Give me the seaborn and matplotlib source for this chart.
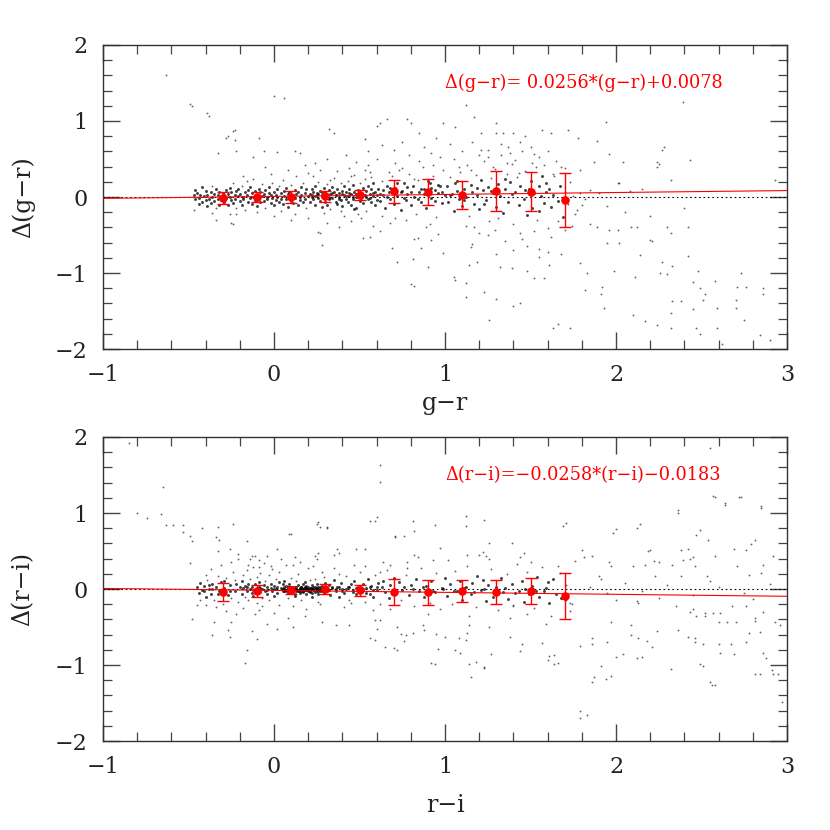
import numpy as np
import pandas as pd
import matplotlib
matplotlib.use('Agg')
import matplotlib.pyplot as plt
import seaborn as sns
from matplotlib.ticker import MultipleLocator

# --- binned means (red points) ---
bin_x = [-0.3, -0.1, 0.1, 0.3, 0.5, 0.7, 0.9, 1.1, 1.3, 1.5, 1.7]
gr_mean = [-0.013, 0.0, 0.0, 0.01, 0.026, 0.075, 0.07, 0.026, 0.08, 0.07, -0.04]
gr_err = [0.077, 0.07, 0.075, 0.075, 0.07, 0.15, 0.17, 0.18, 0.26, 0.26, 0.36]
ri_mean = [-0.044, -0.026, -0.018, -0.005, -0.018, -0.044, -0.044, -0.026, -0.04, -0.022, -0.09]
ri_err = [0.12, 0.085, 0.05, 0.065, 0.07, 0.17, 0.16, 0.15, 0.155, 0.17, 0.30]

# fitted lines (slope, intercept), as printed on the panels
gr_fit = (0.0256, 0.0078)
ri_fit = (-0.0258, -0.0183)
gr_note = 'Δ(g−r)= 0.0256*(g−r)+0.0078'
ri_note = 'Δ(r−i)=−0.0258*(r−i)−0.0183'

# --- individual stars, (colour, delta) ---
gr_core = [
    (-0.47, 0.02), (-0.46, -0.03), (-0.45, 0.05), (-0.44, -0.01), (-0.43, 0.03), (-0.42, -0.06), (-0.41, 0.01),
    (-0.40, 0.08), (-0.40, -0.04), (-0.39, 0.02), (-0.38, -0.02), (-0.37, 0.06), (-0.37, -0.08), (-0.36, 0.00),
    (-0.35, 0.04), (-0.35, -0.05), (-0.34, 0.10), (-0.33, -0.02), (-0.33, 0.03), (-0.32, -0.10), (-0.32, 0.07),
    (-0.31, 0.01), (-0.31, -0.04), (-0.30, 0.05), (-0.46, 0.09), (-0.44, -0.09), (-0.42, 0.13), (-0.39, -0.12),
    (-0.36, 0.15), (-0.34, -0.14),
    (-0.29, 0.02), (-0.29, -0.07), (-0.28, 0.09), (-0.28, -0.01), (-0.27, 0.04), (-0.27, -0.11), (-0.26, 0.12),
    (-0.26, 0.00), (-0.25, -0.04), (-0.25, 0.06), (-0.24, 0.18), (-0.24, -0.08), (-0.23, 0.03), (-0.23, -0.02),
    (-0.22, 0.08), (-0.22, -0.14), (-0.21, 0.01), (-0.21, 0.11), (-0.20, -0.05), (-0.20, 0.04), (-0.19, -0.10),
    (-0.19, 0.15), (-0.18, 0.00), (-0.18, -0.03), (-0.17, 0.07), (-0.17, -0.17), (-0.16, 0.02), (-0.16, 0.21),
    (-0.15, -0.06), (-0.15, 0.09), (-0.14, -0.01), (-0.14, 0.13), (-0.13, 0.05), (-0.13, -0.09), (-0.12, 0.00),
    (-0.12, 0.24), (-0.11, -0.04), (-0.11, 0.08), (-0.10, 0.03), (-0.10, -0.12), (-0.09, 0.11), (-0.09, -0.02),
    (-0.08, 0.06), (-0.08, -0.07), (-0.07, 0.01), (-0.07, 0.17), (-0.06, -0.05), (-0.06, 0.04), (-0.05, -0.15),
    (-0.05, 0.09), (-0.04, 0.00), (-0.04, -0.03), (-0.03, 0.13), (-0.03, 0.05), (-0.02, -0.08), (-0.02, 0.02),
    (-0.01, 0.19), (-0.01, -0.01), (0.00, 0.07), (0.00, -0.11), (0.01, 0.03), (0.01, -0.04), (0.02, 0.10),
    (0.02, 0.00), (0.03, -0.06), (0.03, 0.15), (0.04, 0.05), (0.04, -0.02), (0.05, 0.22), (0.05, -0.09),
    (0.06, 0.01), (0.06, 0.08), (0.07, -0.03), (0.07, 0.12), (0.08, 0.04), (0.08, -0.13), (0.09, 0.00),
    (0.09, 0.06), (0.10, -0.05), (0.10, 0.16), (0.11, 0.02), (0.11, -0.08), (0.12, 0.09), (0.12, -0.01),
    (0.13, 0.27), (0.13, 0.04), (0.14, -0.10), (0.14, 0.07), (0.15, 0.00), (0.15, -0.04), (0.16, 0.13),
    (0.16, 0.03), (0.17, -0.07), (0.17, 0.19), (0.18, 0.05), (0.18, -0.02), (0.19, 0.10), (0.19, -0.15),
    (0.20, 0.01), (0.20, 0.31), (-0.22, -0.22), (-0.10, -0.20), (0.04, -0.19), (0.12, -0.22), (-0.18, 0.28),
    (-0.02, 0.30), (0.08, 0.35),
    (0.21, 0.04), (0.21, -0.06), (0.22, 0.11), (0.22, 0.00), (0.23, -0.03), (0.23, 0.07), (0.24, 0.15),
    (0.24, -0.10), (0.25, 0.02), (0.25, 0.05), (0.26, -0.01), (0.26, 0.20), (0.27, 0.08), (0.27, -0.05),
    (0.28, 0.03), (0.28, -0.13), (0.29, 0.12), (0.29, 0.00), (0.30, 0.06), (0.30, -0.07), (0.31, 0.17),
    (0.31, 0.01), (0.32, -0.03), (0.32, 0.09), (0.33, 0.04), (0.33, -0.16), (0.34, 0.13), (0.34, -0.01),
    (0.35, 0.07), (0.35, 0.25), (0.36, -0.06), (0.36, 0.02), (0.37, 0.10), (0.37, -0.09), (0.38, 0.05),
    (0.38, 0.00), (0.39, 0.18), (0.39, -0.04), (0.40, 0.08), (0.40, -0.12), (0.41, 0.03), (0.41, 0.14),
    (0.42, -0.02), (0.42, 0.06), (0.43, 0.21), (0.43, -0.07), (0.44, 0.01), (0.44, 0.11), (0.45, -0.10),
    (0.45, 0.04), (0.46, 0.16), (0.46, -0.03), (0.47, 0.07), (0.47, 0.29), (0.48, 0.00), (0.48, -0.14),
    (0.49, 0.09), (0.49, 0.03), (0.50, -0.05), (0.50, 0.19), (0.51, 0.05), (0.51, -0.01), (0.52, 0.12),
    (0.52, -0.08), (0.53, 0.02), (0.53, 0.24), (0.54, 0.08), (0.54, -0.18), (0.55, -0.03), (0.55, 0.14),
    (0.56, 0.04), (0.56, 0.33), (0.57, -0.06), (0.57, 0.10), (0.58, 0.01), (0.58, 0.18), (0.59, -0.11),
    (0.59, 0.06), (0.60, 0.02), (0.60, -0.04),
    (0.22, 0.03), (0.24, 0.01), (0.26, 0.04), (0.28, 0.06), (0.30, 0.02), (0.32, -0.01), (0.34, 0.05),
    (0.36, 0.03), (0.38, -0.02), (0.40, 0.04), (0.42, 0.01), (0.44, 0.05), (0.46, 0.00), (0.48, 0.04),
    (0.50, 0.01), (0.52, 0.03), (0.54, 0.00), (0.56, -0.01), (0.58, 0.05), (0.23, 0.28), (0.29, -0.21),
    (0.37, 0.34), (0.41, -0.25), (0.44, 0.38), (0.51, -0.28), (0.55, 0.42), (0.27, 0.36), (0.33, 0.22),
    (0.45, 0.27), (0.57, 0.26), (0.39, -0.19), (0.49, -0.22), (0.53, 0.36), (0.31, -0.11), (0.47, -0.16),
    (0.61, 0.10), (0.62, -0.05), (0.63, 0.21), (0.64, 0.03), (0.65, -0.14), (0.66, 0.15), (0.67, 0.06),
    (0.68, -0.02), (0.69, 0.27), (0.70, -0.09), (0.71, 0.12), (0.72, 0.01), (0.73, 0.35), (0.74, -0.17),
    (0.75, 0.08), (0.76, 0.19), (0.77, -0.04), (0.78, 0.04), (0.79, 0.30), (0.80, -0.11), (0.81, 0.14),
    (0.82, 0.00), (0.83, -0.22), (0.84, 0.23), (0.85, 0.07), (0.86, -0.06), (0.87, 0.40), (0.88, 0.11),
    (0.89, -0.15), (0.90, 0.02), (0.91, 0.18), (0.92, -0.01), (0.93, 0.28), (0.94, 0.09), (0.95, -0.26),
    (0.96, 0.05), (0.97, 0.15), (0.98, -0.08), (0.99, 0.36), (1.00, 0.03),
    (0.62, 0.04), (0.64, 0.09), (0.66, 0.00), (0.68, 0.12), (0.70, 0.05), (0.72, 0.18), (0.74, 0.06),
    (0.76, -0.01), (0.78, 0.13), (0.80, 0.07), (0.82, 0.24), (0.84, -0.03), (0.86, 0.10), (0.88, 0.04),
    (0.90, 0.21), (0.92, 0.12), (0.94, -0.05), (0.96, 0.16), (0.98, 0.06), (0.63, -0.25), (0.71, 0.45),
    (0.77, -0.30), (0.85, 0.48), (0.91, -0.35), (0.97, 0.52), (0.67, 0.33), (0.79, 0.55), (0.89, -0.40),
    (0.75, 0.38), (0.93, 0.42),
    (1.01, 0.14), (1.02, -0.07), (1.03, 0.26), (1.04, 0.04), (1.05, -0.19), (1.06, 0.19), (1.07, 0.08),
    (1.08, -0.02), (1.09, 0.33), (1.10, -0.12), (1.11, 0.11), (1.12, 0.00), (1.13, 0.42), (1.14, -0.25),
    (1.15, 0.16), (1.16, 0.06), (1.17, -0.09), (1.18, 0.29), (1.19, 0.03), (1.20, -0.16), (1.21, 0.22),
    (1.22, 0.09), (1.23, 0.48), (1.24, -0.04), (1.25, 0.13), (1.26, -0.31), (1.27, 0.25), (1.28, 0.05),
    (1.29, 0.37), (1.30, -0.13), (1.31, 0.17), (1.32, 0.01), (1.33, 0.55), (1.34, -0.21), (1.35, 0.10),
    (1.36, 0.30), (1.37, -0.06), (1.38, 0.20), (1.39, 0.44), (1.40, -0.36), (1.41, 0.07), (1.42, 0.26),
    (1.43, -0.10), (1.44, 0.15), (1.45, 0.60), (1.46, -0.02), (1.47, 0.34), (1.48, -0.24), (1.49, 0.11),
    (1.50, 0.21), (1.51, -0.15), (1.52, 0.05), (1.53, 0.39), (1.54, -0.30), (1.55, 0.14), (1.56, 0.01),
    (1.57, 0.27), (1.58, -0.08), (1.59, 0.18), (1.60, -0.41),
    (1.03, 0.02), (1.07, 0.21), (1.11, -0.04), (1.15, 0.35), (1.19, 0.12), (1.23, -0.09), (1.27, 0.08),
    (1.31, -0.27), (1.35, 0.24), (1.39, 0.04), (1.43, 0.31), (1.47, 0.09), (1.51, 0.45), (1.55, -0.19),
    (1.59, 0.06), (1.05, 0.50), (1.12, -0.38), (1.21, 0.62), (1.29, -0.44), (1.37, 0.66), (1.44, -0.47),
    (1.52, 0.57), (1.08, 0.40), (1.25, 0.52), (1.41, 0.49),
    (1.61, 0.10), (1.62, -0.13), (1.63, 0.03), (1.64, 0.28), (1.66, -0.05), (1.67, 0.15), (1.69, -0.26),
    (1.70, 0.07), (1.72, -0.09), (1.73, 0.20), (1.75, 0.01), (1.77, -0.17), (1.79, 0.05), (1.82, -0.02),
    (1.85, 0.09), (1.68, 0.40), (1.74, -0.38),
]

gr_halo = [
    (-0.63, 1.60), (-0.49, 1.22), (-0.48, 1.20), (-0.39, 1.10), (-0.38, 1.07), (0.00, 1.33), (0.06, 1.30),
    (-0.24, 0.87), (-0.27, 0.80), (-0.23, 0.88), (-0.28, 0.77), (-0.23, 0.75), (-0.09, 0.78), (-0.33, 0.58),
    (-0.22, 0.60), (-0.12, 0.52), (-0.06, 0.60), (0.02, 0.59), (0.12, 0.60), (0.15, 0.58), (0.24, 0.45),
    (0.31, 0.50), (0.35, 0.84), (0.32, 0.90), (0.53, 0.76), (0.62, 0.97), (0.63, 0.69), (0.66, 1.03),
    (0.60, 0.93), (0.78, 1.02), (0.80, 0.98), (0.85, 0.84), (0.99, 0.97), (1.06, 0.92), (1.12, 1.21),
    (1.17, 1.05), (1.16, 0.72),
    (-0.47, -0.17), (-0.36, -0.21), (-0.26, -0.23), (-0.25, -0.34), (-0.24, -0.36), (-0.34, -0.30),
    (0.20, -0.28), (0.31, -0.34), (0.26, -0.46), (0.27, -0.47), (0.28, -0.63), (0.52, -0.54), (0.56, -0.53),
    (0.62, -0.45), (0.68, -0.34), (0.71, -0.28), (0.72, -0.85), (0.81, -0.81), (0.82, -0.55), (0.86, -0.67),
    (0.92, -0.57), (0.90, -0.92), (0.96, -0.49), (0.99, -0.74), (1.05, -1.05), (0.82, -1.17), (0.80, -1.15),
    (1.06, -1.09), (1.12, -1.31), (1.12, -1.13), (1.14, -0.90), (1.15, -0.66), (1.17, -0.39), (0.69, -0.67),
    (0.84, -0.54),
    (2.39, 1.25), (1.30, 0.97), (1.21, 0.84), (1.30, 0.84), (1.34, 0.84), (1.40, 0.84), (1.57, 0.88),
    (1.62, 0.84), (1.72, 0.88), (1.78, 0.78), (1.94, 0.99), (1.89, 0.74), (1.96, 0.57), (2.04, 0.46),
    (2.24, 0.46), (2.24, 0.39), (2.27, 0.62), (2.32, 0.22), (1.87, 0.46), (1.79, 0.35), (2.01, 0.19),
    (2.08, 0.08), (2.28, 0.66), (2.25, 0.44), (2.02, 0.18), (2.43, 0.49), (2.93, 0.22),
    (1.85, -0.35), (1.89, -0.39), (1.96, -0.44), (2.01, -0.44), (1.95, -0.61), (2.02, -0.61), (2.09, -0.40),
    (2.12, -0.40), (2.20, -0.57), (2.21, -0.58), (2.30, -0.39), (2.32, -0.48), (2.42, -0.39), (2.42, -0.78),
    (2.27, -0.86), (2.33, -0.91), (2.26, -1.00), (2.30, -1.01), (2.14, -0.76), (2.11, -1.05), (1.99, -0.98),
    (1.79, -0.87), (1.83, -1.00), (1.82, -1.22), (1.92, -1.18), (1.91, -1.27), (1.93, -1.46), (2.10, -1.55),
    (2.17, -1.63), (2.33, -1.37), (2.38, -1.37), (2.32, -1.52), (2.24, -1.68), (2.32, -1.72), (2.45, -1.48),
    (2.47, -1.72), (2.49, -1.20), (2.52, -1.27), (2.51, -1.35), (2.45, -1.12), (2.48, -0.97), (2.58, -1.10),
    (2.59, -1.46), (2.59, -1.73), (2.62, -1.93), (2.49, -1.80), (2.71, -1.19), (2.73, -1.00), (2.70, -1.46),
    (2.86, -1.20), (2.86, -1.27), (2.76, -1.19), (1.66, -1.67), (1.73, -1.72), (1.63, -1.73), (1.26, -1.62),
    (1.40, -1.44), (1.44, -1.40), (1.23, -1.25), (1.30, -1.34), (1.32, -0.92), (1.39, -0.94), (1.48, -0.97),
    (1.52, -1.06), (1.58, -1.06), (1.55, -0.79), (1.61, -0.90), (1.19, -0.86), (1.48, -0.64), (1.55, -0.68),
    (1.16, -0.62), (1.60, -0.73), (1.68, -0.75), (2.70, -1.36), (2.75, -1.62), (2.84, -1.81), (2.90, -1.88),
    (1.20, 0.55), (1.25, 0.62), (1.33, 0.70), (1.38, 0.58), (1.44, 0.73), (1.50, 0.66), (1.55, 0.52),
    (1.60, 0.60), (1.65, 0.48), (1.70, 0.38), (1.47, 0.80), (1.36, 0.45), (1.28, 0.40), (1.58, 0.42),
    (1.63, 0.30), (1.25, -0.50), (1.35, -0.58), (1.45, -0.55), (1.52, -0.45), (1.62, -0.52), (1.70, -0.44),
    (1.40, -0.70), (1.30, -0.75), (1.20, -0.48), (1.66, -0.32), (1.76, -0.22), (1.80, -0.10), (1.90, 0.05),
    (1.95, -0.12), (2.05, -0.20), (2.15, 0.10), (2.20, -0.25), (2.40, -0.15),
    (0.00, -0.25), (0.10, -0.30), (0.38, -0.40), (0.45, -0.32), (0.58, -0.38), (-0.05, 0.40), (0.18, 0.42),
    (0.42, 0.55), (0.55, 0.60), (0.48, 0.46), (0.60, 0.50), (0.70, 0.62), (0.75, 0.72), (0.88, 0.66),
    (0.95, 0.78), (1.03, 0.70), (1.10, 0.60), (0.92, 0.58),
]

ri_core = [
    (-0.45, 0.02), (-0.44, -0.05), (-0.43, 0.08), (-0.42, -0.01), (-0.41, 0.04), (-0.40, -0.10), (-0.39, 0.12),
    (-0.38, 0.00), (-0.37, -0.06), (-0.36, 0.06), (-0.35, -0.15), (-0.34, 0.02), (-0.33, 0.17), (-0.32, -0.03),
    (-0.31, 0.09), (-0.30, -0.20), (-0.29, 0.01), (-0.28, 0.14), (-0.27, -0.08), (-0.26, 0.05), (-0.25, -0.12),
    (-0.24, 0.22), (-0.23, -0.02), (-0.22, 0.07), (-0.21, -0.17), (-0.20, 0.03),
    (-0.43, -0.14), (-0.40, 0.19), (-0.37, 0.26), (-0.34, -0.24), (-0.31, 0.31), (-0.28, -0.29), (-0.25, 0.35),
    (-0.22, -0.33), (-0.38, 0.05), (-0.33, -0.07), (-0.29, 0.10), (-0.26, -0.02), (-0.23, 0.12), (-0.41, -0.03),
    (-0.36, 0.00),
    (-0.19, 0.10), (-0.19, -0.06), (-0.18, 0.01), (-0.18, 0.18), (-0.17, -0.11), (-0.17, 0.04), (-0.16, -0.02),
    (-0.16, 0.25), (-0.15, 0.07), (-0.15, -0.14), (-0.14, 0.00), (-0.14, 0.13), (-0.13, -0.05), (-0.13, 0.03),
    (-0.12, 0.29), (-0.12, -0.09), (-0.11, 0.06), (-0.11, -0.01), (-0.10, 0.16), (-0.10, -0.18), (-0.09, 0.02),
    (-0.09, 0.09), (-0.08, -0.04), (-0.08, 0.21), (-0.07, 0.00), (-0.07, -0.12), (-0.06, 0.05), (-0.06, 0.34),
    (-0.05, -0.02), (-0.05, 0.11), (-0.04, -0.07), (-0.04, 0.03), (-0.03, 0.18), (-0.03, -0.15), (-0.02, 0.01),
    (-0.02, 0.07), (-0.01, -0.03), (-0.01, 0.26), (0.00, 0.04), (0.00, -0.09), (0.01, 0.00), (0.01, 0.13),
    (0.02, -0.05), (0.02, 0.02), (0.03, 0.09), (0.03, -0.21), (0.04, 0.01), (0.04, 0.39), (0.05, -0.02),
    (0.05, 0.06), (-0.18, -0.25), (-0.14, 0.40), (-0.09, -0.28), (-0.04, 0.44), (0.00, -0.31), (-0.16, 0.02),
    (-0.12, -0.01), (-0.08, 0.01), (-0.04, -0.01), (0.00, 0.00), (-0.15, 0.32), (-0.07, -0.22), (-0.02, 0.30),
    (0.03, 0.22),
    (0.05, 0.00), (0.06, -0.03), (0.06, 0.02), (0.07, -0.01), (0.07, 0.04), (0.08, -0.05), (0.08, 0.01),
    (0.09, -0.02), (0.09, 0.03), (0.10, 0.00), (0.10, -0.04), (0.11, 0.02), (0.11, -0.01), (0.12, -0.06),
    (0.12, 0.03), (0.13, 0.00), (0.13, -0.03), (0.14, 0.05), (0.14, -0.01), (0.15, 0.01), (0.15, -0.05),
    (0.16, -0.02), (0.16, 0.03), (0.17, 0.00), (0.17, -0.04), (0.18, 0.02), (0.18, -0.01), (0.19, -0.06),
    (0.19, 0.04), (0.20, 0.00), (0.20, -0.03), (0.21, 0.01), (0.21, -0.02), (0.22, 0.05), (0.22, -0.05),
    (0.23, 0.00), (0.23, -0.01), (0.24, 0.03), (0.24, -0.04), (0.25, 0.01), (0.25, -0.02), (0.26, -0.06),
    (0.26, 0.02), (0.27, 0.00), (0.27, -0.03), (0.28, 0.04), (0.28, -0.01), (0.29, 0.01), (0.29, -0.05),
    (0.30, 0.00),
    (0.06, 0.00), (0.07, -0.02), (0.08, 0.02), (0.09, 0.00), (0.10, 0.02), (0.11, -0.03), (0.12, 0.00),
    (0.13, 0.02), (0.14, -0.03), (0.15, 0.00), (0.16, 0.01), (0.17, -0.02), (0.18, 0.00), (0.19, -0.01),
    (0.20, 0.02), (0.21, -0.04), (0.22, 0.00), (0.23, 0.02), (0.24, -0.01), (0.25, 0.00), (0.26, -0.02),
    (0.27, 0.02), (0.28, -0.03), (0.29, 0.00), (0.065, -0.01), (0.085, 0.01), (0.105, -0.02), (0.125, 0.01),
    (0.145, -0.02), (0.165, 0.00), (0.185, 0.01), (0.205, -0.01), (0.225, 0.00), (0.245, 0.01),
    (0.265, -0.01), (0.285, 0.01), (0.115, 0.00), (0.135, -0.01), (0.155, 0.02), (0.175, 0.01),
    (0.195, 0.00), (0.215, 0.01),
    (0.06, 0.10), (0.08, -0.12), (0.10, 0.15), (0.12, -0.09), (0.14, 0.20), (0.16, -0.14), (0.18, 0.09),
    (0.20, 0.27), (0.22, -0.10), (0.24, 0.13), (0.26, -0.17), (0.28, 0.22), (0.30, 0.08), (0.07, 0.31),
    (0.11, -0.22), (0.15, 0.36), (0.19, -0.26), (0.23, 0.30), (0.27, -0.20), (0.09, 0.07), (0.13, 0.11),
    (0.17, 0.07), (0.21, 0.12), (0.25, 0.07), (0.29, 0.16), (0.12, 0.42), (0.25, 0.40), (0.18, -0.35),
    (0.08, -0.38),
    (0.31, -0.03), (0.32, 0.05), (0.33, -0.08), (0.34, 0.01), (0.35, 0.12), (0.36, -0.02), (0.37, 0.03),
    (0.38, -0.11), (0.39, 0.08), (0.40, 0.00), (0.41, -0.05), (0.42, 0.17), (0.43, 0.02), (0.44, -0.14),
    (0.45, 0.06), (0.46, -0.01), (0.47, 0.10), (0.48, -0.07), (0.49, 0.03), (0.50, 0.22), (0.51, -0.03),
    (0.52, 0.07), (0.53, -0.17), (0.54, 0.01), (0.55, 0.13), (0.56, -0.06), (0.57, 0.04), (0.58, -0.10),
    (0.59, 0.18), (0.60, -0.01), (0.61, 0.08), (0.62, -0.20), (0.63, 0.02), (0.64, 0.11), (0.65, -0.04),
    (0.66, 0.25), (0.67, -0.12), (0.68, 0.05), (0.69, -0.02), (0.70, 0.14),
    (0.32, -0.01), (0.34, 0.03), (0.36, 0.00), (0.38, 0.02), (0.40, -0.03), (0.42, 0.00), (0.44, 0.02),
    (0.46, -0.04), (0.48, 0.01), (0.50, -0.02), (0.52, 0.00), (0.54, -0.05), (0.56, 0.02), (0.58, -0.01),
    (0.60, 0.03), (0.35, 0.28), (0.41, -0.24), (0.47, 0.32), (0.53, 0.30), (0.58, -0.28), (0.64, 0.36),
    (0.38, 0.20), (0.45, -0.19), (0.62, 0.22), (0.68, -0.26),
    (0.71, -0.05), (0.73, 0.09), (0.74, -0.15), (0.76, 0.02), (0.77, 0.19), (0.79, -0.08), (0.80, 0.05),
    (0.82, -0.22), (0.83, 0.13), (0.85, -0.02), (0.86, 0.27), (0.88, -0.11), (0.89, 0.04), (0.91, -0.18),
    (0.92, 0.10), (0.94, -0.04), (0.95, 0.21), (0.97, -0.26), (0.98, 0.01), (1.00, 0.15), (1.01, -0.09),
    (1.03, 0.06), (1.04, -0.20), (1.06, 0.24), (1.07, -0.03), (1.09, 0.11), (1.10, -0.14), (1.12, 0.03),
    (1.13, 0.30), (1.15, -0.07), (1.16, 0.08), (1.18, -0.24), (1.19, 0.17), (1.21, -0.01), (1.22, 0.12),
    (1.24, -0.16), (1.25, 0.05), (1.27, 0.26), (1.28, -0.10), (1.30, 0.02), (1.31, -0.28), (1.33, 0.14),
    (1.34, -0.04), (1.36, 0.20), (1.37, -0.13), (1.39, 0.07), (1.40, -0.21), (1.42, 0.33), (1.43, -0.02),
    (1.45, 0.10), (1.46, -0.17), (1.48, 0.23), (1.49, -0.06), (1.51, 0.04), (1.52, -0.25), (1.54, 0.16),
    (1.55, -0.10), (1.57, 0.29), (1.58, -0.03), (1.60, 0.09), (1.61, -0.18), (1.63, 0.13), (1.65, -0.06),
    (1.67, 0.21), (1.69, -0.12), (1.71, 0.05), (1.74, -0.20),
    (0.75, -0.01), (0.81, 0.00), (0.87, 0.02), (0.93, -0.03), (0.99, 0.00), (1.05, -0.02), (1.11, 0.01),
    (1.17, -0.04), (1.23, 0.00), (1.29, -0.02), (1.35, 0.01), (1.41, -0.05), (1.47, 0.00), (1.53, -0.02),
    (1.59, 0.01), (0.78, 0.35), (0.90, -0.33), (1.02, 0.38), (1.14, -0.36), (1.26, 0.40), (1.38, -0.38),
    (1.50, 0.36), (1.62, -0.35), (1.66, 0.30), (0.84, 0.42), (1.20, 0.45), (1.44, 0.42),
]

ri_halo = [
    (0.62, 1.41), (-0.53, 0.75), (-0.42, 0.80), (-0.33, 0.82), (-0.24, 0.85), (-0.48, 0.63), (-0.34, 0.69),
    (-0.32, 0.65), (-0.33, 0.50), (-0.26, 0.52), (-0.21, 0.46), (-0.21, 0.39), (-0.16, 0.63), (-0.13, 0.44),
    (-0.11, 0.44), (-0.09, 0.38), (-0.09, 0.29), (0.02, 0.52), (0.09, 0.73), (0.11, 0.32), (0.25, 0.86),
    (0.27, 0.82), (0.31, 0.80), (0.26, 0.48), (0.24, 0.43), (0.37, 0.52), (0.35, 0.45), (0.53, 0.53),
    (0.56, 0.89), (0.59, 0.89), (0.71, 0.69), (0.76, 0.70), (0.81, 0.89), (0.82, 0.76), (0.94, 0.84),
    (0.97, 0.54), (0.82, 0.45), (0.93, 0.38), (1.13, 0.45), (0.68, 0.32), (0.78, 0.27),
    (-0.48, -0.39), (-0.36, -0.61), (-0.26, -0.63), (-0.10, -0.66), (-0.17, -0.98), (-0.27, -0.54),
    (0.02, -0.52), (0.11, -0.50), (-0.04, -0.46), (0.28, -0.44), (0.36, -0.48), (0.44, -0.48), (0.56, -0.65),
    (0.59, -0.67), (0.65, -0.76), (0.70, -0.78), (0.72, -0.80), (0.76, -0.69), (0.81, -0.58), (0.87, -0.48),
    (0.88, -0.54), (1.00, -0.63), (0.92, -0.97), (0.94, -0.99), (1.06, -0.80), (1.09, -0.84), (1.13, -0.58),
    (1.14, -0.48), (1.14, -0.99), (1.15, -1.16), (1.12, -0.67),
    (2.58, 1.21), (2.73, 1.21), (2.64, 1.11), (2.85, 1.07), (2.36, 1.00), (1.69, 0.83), (1.98, 0.74),
    (2.12, 0.80), (2.47, 0.71), (2.54, 0.64), (2.79, 0.59), (2.69, 0.53), (2.19, 0.50), (2.22, 0.37),
    (2.17, 0.32), (2.38, 0.51), (2.45, 0.42), (2.39, 0.38), (1.76, 0.37), (1.81, 0.42), (1.96, 0.36),
    (1.97, 0.30), (2.10, 0.30), (2.33, 0.32), (2.38, 0.17), (2.46, 0.30), (2.53, 0.17), (2.86, 0.32),
    (2.85, 0.21), (2.78, 0.18), (2.71, 0.30), (2.23, 0.17), (1.90, 0.17), (1.91, 0.13),
    (1.68, -0.12), (1.71, -0.14), (1.73, -0.18), (1.73, -0.29), (1.86, -0.65), (1.79, -0.75), (1.64, -0.87),
    (1.66, -0.98), (1.45, -0.73), (1.38, -0.63), (1.26, -0.50), (1.23, -1.04), (1.40, -0.22), (1.48, -0.33),
    (1.59, -0.46), (1.91, -1.01), (1.86, -1.22), (1.94, -1.19), (2.00, -0.89), (2.12, -0.91), (1.97, -0.44),
    (2.09, -0.47), (2.09, -0.60), (2.18, -0.69), (2.24, -0.55), (2.12, -0.16), (2.13, -0.18), (2.35, -0.22),
    (2.36, -0.54), (2.43, -0.30), (2.45, -0.26), (2.42, -0.63), (2.46, -0.65), (2.49, -0.99), (2.52, -0.31),
    (2.57, -0.31), (2.61, -0.31), (2.65, -0.44), (2.60, -0.73), (2.61, -0.84), (2.69, -0.85), (2.55, -1.23),
    (2.56, -1.26), (2.68, -0.22), (2.76, -0.22), (2.81, -0.42), (2.84, -0.57), (2.86, -0.84), (2.81, -1.12),
    (2.91, -1.07), (2.92, -1.12), (2.93, -0.44), (2.96, -0.47), (1.79, -1.60), (1.83, -1.66), (1.79, -1.70),
    (1.57, -0.71), (1.60, -0.93), (1.44, -0.82),
    (-0.85, 1.92), (-0.65, 1.34), (-0.80, 1.00), (-0.74, 0.93), (-0.66, 0.99), (-0.63, 0.84), (-0.59, 0.84),
    (-0.53, 0.84), (-0.49, 0.70), (-0.49, 0.34), (-0.45, -0.21), (-0.40, -0.21), (-0.35, -0.43),
    (-0.25, -0.43), (-0.13, -0.55), (-0.16, -0.80), (-0.11, -0.33), (0.10, 0.73), (0.26, 0.88), (0.31, 0.81),
    (0.62, 1.63), (0.60, 0.95), (0.38, 0.47), (0.48, 0.52), (0.71, 0.70), (0.59, -0.41), (0.62, -0.41),
    (0.60, -0.52), (0.72, -0.50), (0.77, -0.61), (0.74, -0.59),
    (2.55, 1.85), (2.57, 1.22), (2.64, 1.13), (2.72, 1.21), (2.85, 1.09), (2.36, 1.04), (1.71, 0.87),
    (2.14, 0.86), (2.00, 0.79), (2.49, 0.77), (2.81, 0.64), (2.76, 0.51), (2.92, 0.44), (1.12, 0.96),
    (1.23, 0.91), (1.12, 0.83), (1.26, 0.61), (1.22, 0.49), (1.24, 0.43), (1.39, 0.61), (1.46, 0.48),
    (1.80, 0.51), (1.86, 0.43), (2.20, 0.51), (2.25, 0.36), (2.42, 0.53), (2.43, 0.40), (2.58, 0.44),
    (2.58, -1.26), (1.87, -1.16), (1.97, -1.15), (2.04, -0.86), (2.15, -0.89), (2.32, -1.05), (2.51, -1.01),
    (2.84, -1.12), (2.95, -1.12), (2.97, -1.48), (1.86, -0.72), (1.95, -0.70), (2.13, -0.65), (2.21, -0.76),
    (2.46, -0.70), (2.51, -0.72), (2.67, -0.72), (2.76, -0.70), (2.88, -0.91), (2.47, -0.36), (2.52, -0.36),
    (2.60, -0.43), (2.70, -0.43), (2.78, -0.58), (2.81, -0.38), (2.86, -0.30), (1.61, -0.88), (1.64, -0.99),
    (1.18, -0.96), (1.23, -1.02), (0.96, -0.79), (0.95, -0.59), (1.08, -0.64), (1.27, -0.86),
    (1.85, 0.02), (1.95, -0.05), (2.05, 0.08), (2.15, -0.03), (2.30, 0.05), (2.45, -0.08), (2.60, 0.03),
    (2.75, -0.05), (2.90, 0.06), (2.00, -0.15), (2.25, -0.12), (2.55, 0.10), (2.80, -0.13),
]

sns.set_style('ticks')
plt.rcParams['font.family'] = ['DejaVu Serif']
plt.rcParams['axes.unicode_minus'] = True

fig = plt.figure(figsize=(8.3, 8.3))
ax_top = fig.add_axes([0.1241, 0.5795, 0.8241, 0.3663])
ax_bot = fig.add_axes([0.1241, 0.1072, 0.8241, 0.3663])


def draw_panel(ax, core, halo, means, errs, fit, note, xlab, ylab, xlab_y, band, widen):
    stars = pd.DataFrame(core + halo, columns=['colour', 'delta'])
    # the tight sequence reads as a dark band, everything else as faint specks
    limit = band + widen * stars['colour'].clip(lower=0)
    inner = (stars['delta'].abs() <= limit) & (stars['colour'] < 1.7)
    sns.scatterplot(data=stars[~inner], x='colour', y='delta', s=1.8, color='black', linewidth=0,
                    alpha=0.6, legend=False, ax=ax, zorder=2)
    sns.scatterplot(data=stars[inner], x='colour', y='delta', s=4.5, color='black', linewidth=0,
                    alpha=0.75, legend=False, ax=ax, zorder=2)
    ax.axhline(0, color='black', lw=0.8, ls=(0, (1.5, 2.5)), zorder=1)

    # fitted relation over the whole range
    fx = np.array([-1.0, 3.0])
    sns.lineplot(x=fx, y=fit[0] * fx + fit[1], color='red', lw=0.8, ax=ax, zorder=3)

    ax.errorbar(bin_x, means, yerr=errs, fmt='none', ecolor='red', elinewidth=1,
                capsize=4, capthick=1, zorder=4)
    sns.scatterplot(x=bin_x, y=means, color='red', s=38, linewidth=0, ax=ax, zorder=5)

    ax.text(1.0, 1.5, note, color='red', fontsize=12.8, ha='left', va='center')

    ax.set_xlim(-1, 3)
    ax.set_ylim(-2, 2)
    ax.xaxis.set_major_locator(MultipleLocator(1))
    ax.xaxis.set_minor_locator(MultipleLocator(0.2))
    ax.yaxis.set_major_locator(MultipleLocator(1))
    ax.yaxis.set_minor_locator(MultipleLocator(0.2))
    ax.tick_params(which='both', direction='in', top=True, right=True, color='#444')
    ax.tick_params(which='major', length=12, width=1, pad=11, labelsize=16, labelcolor='#222')
    ax.tick_params(which='minor', length=6.5, width=0.9)
    for sp in ax.spines.values():
        sp.set_linewidth(1)
        sp.set_color('#333')

    ax.set_xlabel(xlab, fontsize=17, color='#222')
    ax.set_ylabel(ylab, fontsize=17, color='#222')
    ax.xaxis.set_label_coords(0.5, xlab_y)
    ax.yaxis.set_label_coords(-0.10, 0.5)


draw_panel(ax_top, gr_core, gr_halo, gr_mean, gr_err, gr_fit, gr_note, 'g−r', 'Δ(g−r)', -0.141, 0.13, 0.09)
draw_panel(ax_bot, ri_core, ri_halo, ri_mean, ri_err, ri_fit, ri_note, 'r−i', 'Δ(r−i)', -0.174, 0.10, 0.06)

fig.savefig('out.png', dpi=100)
